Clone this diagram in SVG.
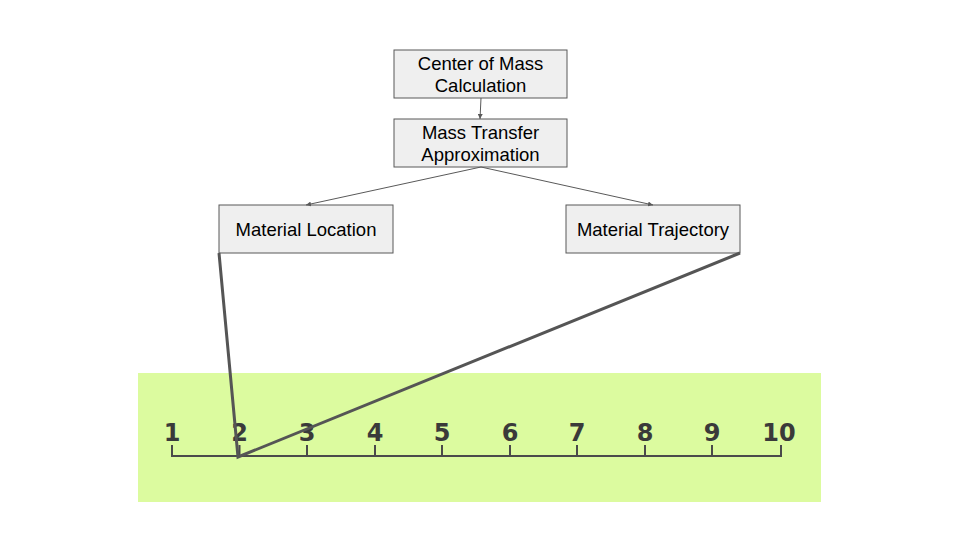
<svg xmlns="http://www.w3.org/2000/svg" width="960" height="540" viewBox="0 0 960 540">
<style>
.box{fill:#efefef;stroke:#595959;stroke-width:1}
.lbl{font-family:"Liberation Sans",Arial,sans-serif;font-size:18.5px;fill:#000;text-anchor:middle}
.num{font-family:"DejaVu Sans",sans-serif;font-weight:bold;font-size:24px;fill:#3a3a3a;text-anchor:middle}
.conn{stroke:#595959;stroke-width:1;fill:none}
.thick{stroke:#555;stroke-width:3;fill:none}
.axis{stroke:#4a4a4a;stroke-width:2;fill:none}
</style>
<defs>
<marker id="ah" viewBox="0 0 10 10" refX="10" refY="5" markerWidth="5" markerHeight="5" orient="auto">
<path d="M0,0 L10,5 L0,10 z" fill="#595959"/>
</marker>
</defs>
<rect width="960" height="540" fill="#fff"/>
<g id="ruler">
<rect x="138" y="373" width="683" height="129" fill="#dcfb9f"/>
<path class="axis" d="M172,445 V456 H781 V445 M239.5,445 V456 M307,445 V456 M375,445 V456 M442,445 V456 M510,445 V456 M577,445 V456 M645,445 V456 M712,445 V456"/>
<text class="num" x="172" y="441">1</text>
<text class="num" x="239.5" y="441">2</text>
<text class="num" x="307" y="441">3</text>
<text class="num" x="375" y="441">4</text>
<text class="num" x="442" y="441">5</text>
<text class="num" x="510" y="441">6</text>
<text class="num" x="577" y="441">7</text>
<text class="num" x="645" y="441">8</text>
<text class="num" x="712" y="441">9</text>
<text class="num" x="779" y="441">10</text>
</g>
<g id="n1"><rect class="box" x="394" y="50" width="173" height="48"/><text class="lbl" x="480.5" y="70">Center of Mass</text><text class="lbl" x="480.5" y="92">Calculation</text></g>
<g id="n2"><rect class="box" x="394" y="119" width="173" height="48"/><text class="lbl" x="480.5" y="139">Mass Transfer</text><text class="lbl" x="480.5" y="161">Approximation</text></g>
<g id="n3"><rect class="box" x="219" y="205" width="174" height="48"/><text class="lbl" x="306" y="236">Material Location</text></g>
<g id="n4"><rect class="box" x="566" y="205" width="174" height="48"/><text class="lbl" x="653" y="236">Material Trajectory</text></g>
<g id="connectors">
<line class="conn" x1="481" y1="98" x2="480" y2="119" marker-end="url(#ah)"/>
<line class="conn" x1="481" y1="167" x2="306" y2="205" marker-end="url(#ah)"/>
<line class="conn" x1="481" y1="167" x2="653" y2="205" marker-end="url(#ah)"/>
<polyline class="thick" points="219,253 238,457 740,253" stroke-linejoin="miter"/>
</g>
</svg>
